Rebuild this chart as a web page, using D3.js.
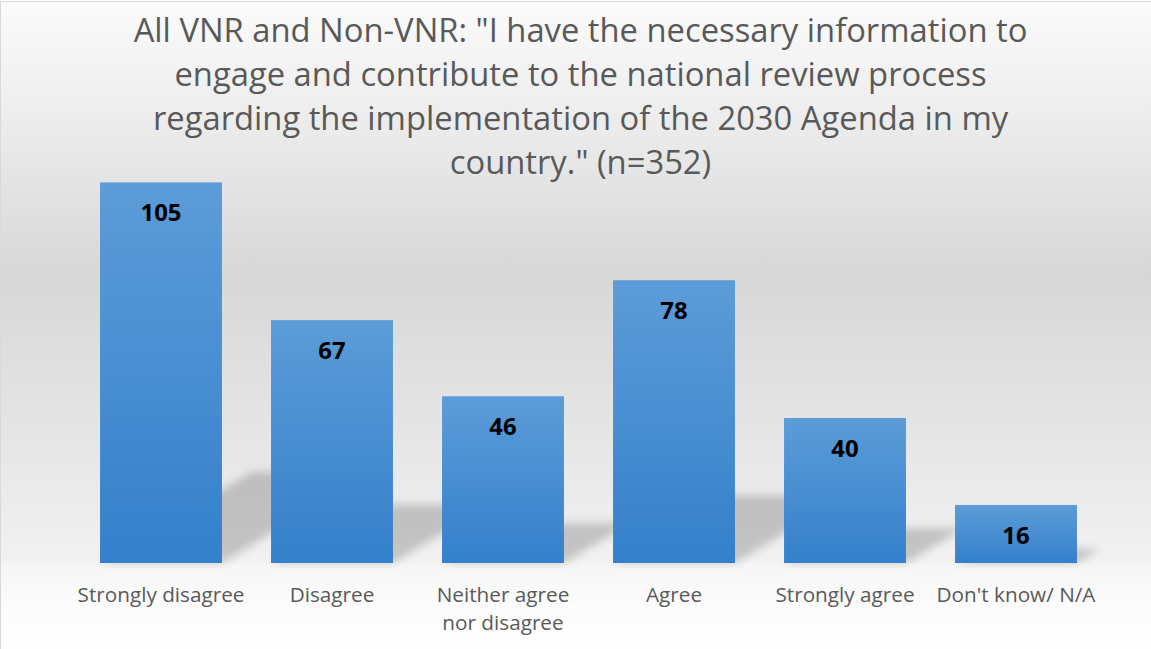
<!DOCTYPE html>
<html lang="en">
<head>
<meta charset="UTF-8">
<title>VNR survey chart</title>
<script src="https://d3js.org/d3.v7.min.js"></script>
<style>
  body { margin: 0; background: #fff; }
  svg { display: block; }
  text { font-family: "Open Sans", sans-serif; }
</style>
</head>
<body>
<svg class="chart" width="1151" height="649"></svg>
<script>
  // data
  const titleLines = [
    'All VNR and Non-VNR: "I have the necessary information to',
    'engage and contribute to the national review process',
    'regarding the implementation of the 2030 Agenda in my',
    'country." (n=352)'
  ];
  const categories = ['Strongly disagree', 'Disagree', 'Neither agree nor disagree', 'Agree', 'Strongly agree', "Don't know/ N/A"];
  const counts = [105, 67, 46, 78, 40, 16];

  const svg = d3.select('svg.chart');
  const width = +svg.attr('width');
  const height = +svg.attr('height');
  const margins = { top: 128, left: 75.5, right: 49.5, bottom: 86 };
  const base = height - margins.bottom;

  const defs = svg.append('defs');

  // chart background, grey band in the middle
  const bg = defs.append('linearGradient').attr('id', 'bg')
    .attr('gradientUnits', 'userSpaceOnUse')
    .attr('x1', 0).attr('y1', 0).attr('x2', 0).attr('y2', height);
  [[0, '#fbfbfb'], [130, '#ebebeb'], [275, '#d7d7d7'], [430, '#e5e5e5'], [560, '#f1f1f1'], [566, '#f6f6f6'], [610, '#fcfcfc'], [649, '#fefefe']]
    .forEach(s => bg.append('stop').attr('offset', s[0] / height).attr('stop-color', s[1]));

  const barGrad = defs.append('linearGradient').attr('id', 'bar')
    .attr('x1', 0).attr('y1', 0).attr('x2', 0).attr('y2', 1);
  barGrad.append('stop').attr('offset', 0).attr('stop-color', '#5c9cd8');
  barGrad.append('stop').attr('offset', 1).attr('stop-color', '#3480cb');

  defs.append('filter').attr('id', 'blur')
    .attr('x', '-20%').attr('y', '-20%').attr('width', '140%').attr('height', '140%')
    .append('feGaussianBlur').attr('stdDeviation', 4);

  svg.append('rect')
    .attr('x', 0.5).attr('y', 1.5)
    .attr('width', width + 10).attr('height', height + 10)
    .attr('fill', 'url(#bg)')
    .attr('stroke', '#d9d9d9');

  // scales
  const x = d3.scaleBand()
    .domain(categories)
    .range([margins.left, width - margins.right])
    .paddingInner(0.287)
    .paddingOuter(0.1435);
  const y = d3.scaleLinear()
    .domain([0, 120])
    .range([base, margins.top]);

  const rows = categories.map((c, i) => ({ cat: c, value: counts[i] }));

  // perspective shadows behind the bars
  svg.append('g')
    .attr('filter', 'url(#blur)')
    .selectAll('path')
    .data(rows)
    .join('path')
    .attr('d', d => {
      const x0 = x(d.cat), x1 = x0 + x.bandwidth();
      const h = base - y(d.value);
      const dx = 0.4 * h, rise = 0.24 * h;
      return `M${x0},${base}L${x1},${base}L${x1 + dx},${base - rise}L${x0 + dx},${base - rise}Z`;
    })
    .attr('fill', '#000')
    .attr('fill-opacity', 0.19);

  // bars
  svg.append('g')
    .selectAll('rect')
    .data(rows)
    .join('rect')
    .attr('x', d => x(d.cat))
    .attr('y', d => y(d.value))
    .attr('width', x.bandwidth())
    .attr('height', d => base - y(d.value))
    .attr('fill', 'url(#bar)');

  // helper: pick a font size so a sample string gets a given width
  function fitSize(str, weight, target, start) {
    const t = svg.append('text').attr('font-size', start).attr('font-weight', weight).text(str);
    const w = t.node().getComputedTextLength();
    t.remove();
    return start * target / w;
  }

  // value labels
  const valSize = fitSize('105', 'bold', 41, 22);
  svg.append('g')
    .selectAll('text')
    .data(rows)
    .join('text')
    .attr('x', d => x(d.cat) + x.bandwidth() / 2)
    .attr('y', d => y(d.value) + 39)
    .attr('text-anchor', 'middle')
    .attr('font-size', valSize)
    .attr('font-weight', 'bold')
    .attr('fill', '#000')
    .text(d => d.value);

  // category axis (no line, no ticks)
  const catSize = fitSize('Strongly disagree', 'normal', 167, 18);
  const xAxis = svg.append('g')
    .attr('transform', `translate(0,${base})`)
    .call(d3.axisBottom(x).tickSize(0).tickPadding(0));
  xAxis.select('.domain').remove();
  xAxis.selectAll('text')
    .attr('font-family', '"Open Sans", sans-serif')
    .attr('font-size', catSize)
    .attr('fill', '#595959')
    .attr('dy', null)
    .attr('y', 39)
    .each(function (d) {
      // word wrap to the band step
      const el = d3.select(this);
      const words = d.split(' ');
      el.text(null);
      let line = [];
      let tspan = el.append('tspan').attr('x', 0).attr('y', 39);
      let n = 0;
      words.forEach(w => {
        line.push(w);
        tspan.text(line.join(' '));
        if (tspan.node().getComputedTextLength() > x.step() && line.length > 1) {
          line.pop();
          tspan.text(line.join(' '));
          line = [w];
          n++;
          tspan = el.append('tspan').attr('x', 0).attr('y', 39 + n * 28).text(w);
        }
      });
    });

  // title
  const titleSize = fitSize(titleLines[0], 'normal', 894, 28);
  svg.append('g')
    .selectAll('text')
    .data(titleLines)
    .join('text')
    .attr('x', width / 2 + 5)
    .attr('y', (d, i) => 42 + i * 44)
    .attr('text-anchor', 'middle')
    .attr('font-size', titleSize)
    .attr('fill', '#595959')
    .text(d => d);
</script>
</body>
</html>
